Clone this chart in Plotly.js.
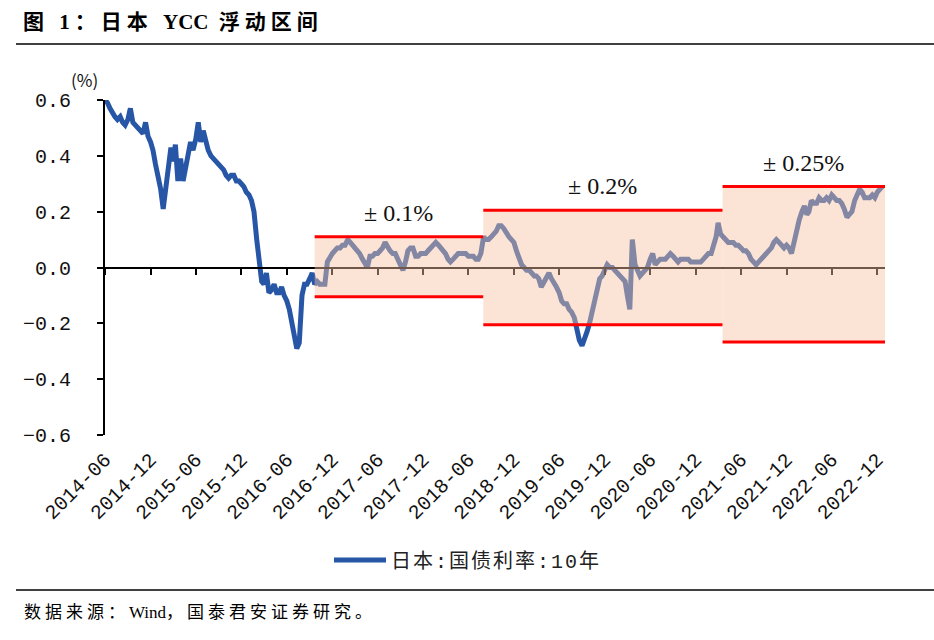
<!DOCTYPE html>
<html>
<head>
<meta charset="utf-8">
<script src="https://cdn.plot.ly/plotly-3.0.1.min.js"></script>
<style>html,body{margin:0;padding:0;background:#fff}#chart{width:934px;height:640px}</style>
</head>
<body>
<div id="chart"></div>
<script>
// ---- data: Japan 10Y JGB yield (%), sampled on days 1, 11, 21 of each month ----
const firstYear = 2014, firstMonth = 6;
const sampleDays = [1, 11, 21];
const y2014 = [ // Jun - Dec
  0.60, 0.59, 0.57,  0.55, 0.54, 0.53,  0.54, 0.52, 0.51,  0.53, 0.57, 0.52,
  0.51, 0.50, 0.49,  0.48, 0.52, 0.47,  0.45, 0.42, 0.37];
const y2015 = [
  0.33, 0.28, 0.21,  0.30, 0.38, 0.43,  0.38, 0.44, 0.31,  0.39, 0.31, 0.36,
  0.40, 0.45, 0.42,  0.46, 0.52, 0.45,  0.49, 0.45, 0.42,  0.40, 0.39, 0.38,
  0.37, 0.36, 0.35,  0.33, 0.32, 0.33,  0.33, 0.31, 0.31,  0.30, 0.29, 0.27];
const y2016 = [
  0.26, 0.24, 0.20,  0.10, 0.02, -0.05,  -0.06, -0.02, -0.09,  -0.08, -0.06, -0.09,
  -0.09, -0.07, -0.10,  -0.12, -0.15, -0.19,  -0.23, -0.29, -0.27,  -0.10, -0.06, -0.06,
  -0.04, -0.02, -0.06,  -0.05, -0.06, -0.06,  -0.06, 0.02, 0.04,  0.05, 0.06, 0.07];
const y2017 = [
  0.07, 0.08, 0.08,  0.10, 0.09, 0.08,  0.07, 0.06, 0.05,  0.03, 0.01, 0.00,
  0.04, 0.04, 0.05,  0.05, 0.06, 0.07,  0.09, 0.07, 0.06,  0.05, 0.05, 0.03,
  0.01, -0.01, 0.02,  0.06, 0.07, 0.07,  0.04, 0.04, 0.05,  0.05, 0.05, 0.06];
const y2018 = [
  0.07, 0.08, 0.09,  0.08, 0.07, 0.06,  0.05, 0.03, 0.02,  0.03, 0.04, 0.05,
  0.05, 0.05, 0.05,  0.04, 0.04, 0.04,  0.03, 0.03, 0.05,  0.11, 0.10, 0.10,
  0.11, 0.12, 0.13,  0.15, 0.15, 0.14,  0.12, 0.11, 0.10,  0.09, 0.06, 0.03];
const y2019 = [
  0.01, 0.00, -0.01,  -0.01, -0.02, -0.03,  -0.03, -0.04, -0.07,  -0.05, -0.04, -0.02,
  -0.04, -0.06, -0.07,  -0.09, -0.12, -0.13,  -0.13, -0.15, -0.16,  -0.18, -0.22, -0.26,
  -0.28, -0.26, -0.23,  -0.20, -0.16, -0.12,  -0.08, -0.04, -0.03,  -0.01, 0.01, 0.00];
const y2020 = [
  0.00, -0.01, -0.02,  -0.03, -0.04, -0.05,  -0.10, -0.15, 0.10,  0.01, -0.01, -0.03,
  -0.02, -0.01, 0.00,  0.03, 0.05, 0.01,  0.02, 0.03, 0.03,  0.03, 0.04, 0.05,
  0.04, 0.03, 0.02,  0.03, 0.03, 0.03,  0.03, 0.02, 0.02,  0.02, 0.02, 0.02];
const y2021 = [
  0.03, 0.04, 0.05,  0.05, 0.08, 0.11,  0.16, 0.12, 0.11,  0.10, 0.09, 0.09,
  0.09, 0.08, 0.08,  0.07, 0.06, 0.06,  0.05, 0.03, 0.02,  0.01, 0.02, 0.03,
  0.04, 0.05, 0.06,  0.07, 0.09, 0.10,  0.09, 0.08, 0.07,  0.08, 0.07, 0.05];
const y2022 = [
  0.10, 0.14, 0.17,  0.20, 0.22, 0.19,  0.20, 0.24, 0.23,  0.23, 0.25, 0.24,
  0.24, 0.25, 0.24,  0.26, 0.25, 0.24,  0.24, 0.23, 0.21,  0.18, 0.19, 0.20,
  0.24, 0.26, 0.28,  0.27, 0.25, 0.25,  0.25, 0.26, 0.25,  0.27, 0.28, 0.29];
const seriesName = '日本:国债利率:10年';

// YCC bands
const bandStart = ['2016-09-21', '2018-07-31', '2021-03-19'];
const bandEnd   = ['2018-07-31', '2021-03-19', '2023-01-01'];
const bandUpper = [0.11, 0.205, 0.29];
const bandLower = [-0.105, -0.205, -0.267];
const bandSign = '±';
const bandLabels = ['0.1%', '0.2%', '0.25%'];

// axis
const xRange = ['2014-06-01', '2023-01-01'];
const yRange = [-0.6, 0.6];

// ---- build ----
const values = [].concat(y2014, y2015, y2016, y2017, y2018, y2019, y2020, y2021, y2022);
const dates = [];
for (let i = 0; i < values.length / 3; i++) {
  const m0 = firstMonth - 1 + i;
  const yr = firstYear + Math.floor(m0 / 12);
  const mo = (m0 % 12) + 1;
  sampleDays.forEach(d => dates.push(yr + '-' + String(mo).padStart(2, '0') + '-' + String(d).padStart(2, '0')));
}

const LINE = '#2756A6';
const OVER = 'rgba(246,196,162,0.45)';
const tickFont = {family: 'Liberation Mono, "Noto Sans CJK SC"', size: 20, color: '#111'};
const sp = (t, px) => '<span style="letter-spacing:' + px + 'px">' + t + '</span>';

const traces = [
  {x: dates, y: values, type: 'scatter', mode: 'lines', name: sp(seriesName, 2),
   line: {color: LINE, width: 5}, hoverinfo: 'x+y'},
  {x: [dates[0]], y: [values[0]], xaxis: 'x2', type: 'scatter', mode: 'markers',
   marker: {opacity: 0}, showlegend: false, hoverinfo: 'skip'}
];

const shapes = [];
const annotations = [];
function mid(a, b) { const t = (new Date(a).getTime() + new Date(b).getTime()) / 2; return new Date(t).toISOString().slice(0, 10); }
for (let i = 0; i < bandStart.length; i++) {
  shapes.push({type: 'rect', layer: 'above', xref: 'x', yref: 'y', x0: bandStart[i], x1: bandEnd[i],
    y0: bandLower[i], y1: bandUpper[i], fillcolor: OVER, line: {width: 0}});
  [bandUpper[i], bandLower[i]].forEach(v => shapes.push({type: 'line', layer: 'above', xref: 'x', yref: 'y',
    x0: bandStart[i], x1: bandEnd[i], y0: v, y1: v, line: {color: '#FF0000', width: 3}}));
  annotations.push({xref: 'x', yref: 'y', x: mid(bandStart[i], bandEnd[i]), y: bandUpper[i], yanchor: 'bottom', yshift: 9,
    text: sp(bandSign, 6) + bandLabels[i], showarrow: false,
    font: {family: 'Liberation Serif, "Noto Sans CJK SC"', size: 24, color: '#111'}});
}
// rules above and below
shapes.push({type: 'line', xref: 'paper', yref: 'paper', x0: -0.1141, x1: 1.0628, y0: 1.1672, y1: 1.1672, line: {color: '#000', width: 1.5}});
shapes.push({type: 'line', xref: 'paper', yref: 'paper', x0: -0.1141, x1: 1.0628, y0: -0.4627, y1: -0.4627, line: {color: '#000', width: 1.5}});

annotations.push({xref: 'paper', yref: 'paper', x: -0.046, y: 1.105, text: '(%)', showarrow: false,
  font: {family: '"Noto Sans CJK SC"', size: 17, color: '#111'}});
annotations.push({xref: 'paper', yref: 'paper', x: -0.1064, y: -0.5284, xanchor: 'left', yanchor: 'middle',
  text: sp('数据来源：', 4) + 'Wind' + sp('，国泰君安证券研究。', 4), showarrow: false,
  font: {family: 'Liberation Serif, "Noto Sans CJK SC"', size: 17, color: '#000'}});

const layout = {
  width: 934, height: 640, autosize: false,
  margin: {l: 105, r: 49, t: 100, b: 205},
  paper_bgcolor: '#fff', plot_bgcolor: '#fff',
  title: {text: sp('图 1：日本 ', 5) + 'YCC' + sp(' 浮动区间', 5), xref: 'container', yref: 'container',
    x: 23 / 934, xanchor: 'left', y: 1 - 22 / 640, yanchor: 'middle',
    font: {family: 'Liberation Serif, "Noto Sans CJK SC"', size: 21, weight: 'bold', color: '#000'}},
  showlegend: true,
  legend: {orientation: 'h', x: 0.4654, xanchor: 'center', y: -0.3731, yanchor: 'middle', itemwidth: 52,
    font: {family: 'Liberation Mono, "Noto Sans CJK SC"', size: 20, color: '#222'}, bgcolor: 'rgba(0,0,0,0)'},
  xaxis: {type: 'date', range: xRange, tickmode: 'linear', tick0: '2014-06-01', dtick: 'M6', tickformat: '%Y-%m',
    tickangle: -45, ticks: '', showline: false, showgrid: false, zeroline: false, tickfont: tickFont,
    ticklabelstandoff: 8, fixedrange: true},
  xaxis2: {type: 'date', overlaying: 'x', anchor: 'free', position: 0.5, range: xRange, tickmode: 'linear',
    tick0: '2014-06-01', dtick: 'M6', ticks: 'outside', ticklen: 6, tickwidth: 2, tickcolor: '#000',
    showline: true, linecolor: '#000', linewidth: 2, showticklabels: false, showgrid: false, zeroline: false, fixedrange: true},
  yaxis: {range: yRange, tickmode: 'linear', tick0: 0, dtick: 0.2, tickformat: '.1f', ticks: 'outside', ticklen: 6,
    tickwidth: 2, tickcolor: '#000', showline: true, linecolor: '#000', linewidth: 2, showgrid: false, zeroline: false,
    tickfont: tickFont, ticklabelstandoff: 22, fixedrange: true},
  shapes: shapes,
  annotations: annotations
};

Plotly.newPlot('chart', traces, layout, {displayModeBar: false, staticPlot: true});
</script>
</body>
</html>
